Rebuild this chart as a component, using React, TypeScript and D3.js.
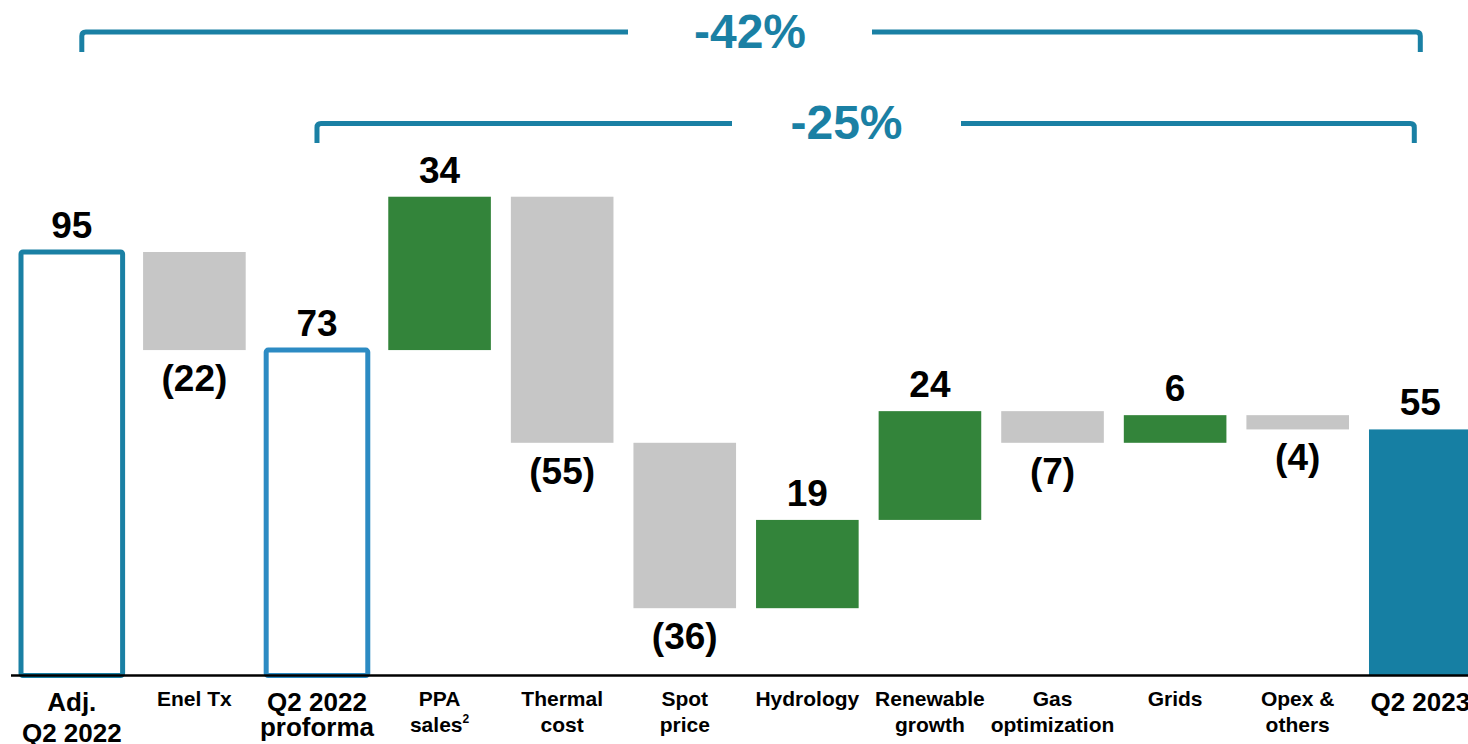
import React from "react";
import * as d3 from "d3";

const categories: string[][] = [
  ["Adj.", "Q2 2022"],
  ["Enel Tx"],
  ["Q2 2022", "proforma"],
  ["PPA", "sales"],
  ["Thermal", "cost"],
  ["Spot", "price"],
  ["Hydrology"],
  ["Renewable", "growth"],
  ["Gas", "optimization"],
  ["Grids"],
  ["Opex &", "others"],
  ["Q2 2023"],
];
const footnotes = ["", "", "", "2", "", "", "", "", "", "", "", ""];
const kinds = ["total", "delta", "total", "delta", "delta", "delta", "delta", "delta", "delta", "delta", "delta", "total"];
const values = [95, -22, 73, 34.4, -55.2, -37.1, 19.8, 24.4, -7.1, 6.2, -3.2, 55.2];
const valueLabels = ["95", "(22)", "73", "34", "(55)", "(36)", "19", "24", "(7)", "6", "(4)", "55"];

const brackets = [
  { from: 0, to: 11, label: "-42%" },
  { from: 2, to: 11, label: "-25%" },
];

const FONT = "'Liberation Sans', Arial, Helvetica, sans-serif";
const TEAL = "#1a80a4";
const BLUE = "#2c8bc3";
const GREEN = "#33843a";
const GRAY = "#c6c6c6";
const FINAL = "#167fa3";

export default function App() {
  const W = 1468;
  const H = 744;
  const x = d3
    .scaleBand<number>()
    .domain(d3.range(categories.length))
    .range([20.5, 1471.6])
    .paddingInner(0.163)
    .paddingOuter(0);
  const y = d3.scaleLinear().domain([0, 95]).range([675.5, 252]);
  const bw = x.bandwidth();

  let running = 0;
  const bars = values.map((v, i) => {
    let start: number, end: number;
    if (kinds[i] === "total") {
      start = 0;
      end = v;
      running = v;
    } else {
      start = running;
      end = running + v;
      running = end;
    }
    return { i, v, start, end, lo: Math.min(start, end), hi: Math.max(start, end) };
  });

  const cx = (i: number) => (x(i) as number) + bw / 2;

  const bracketGeo = [
    { left: cx(brackets[0].from) + 10, right: cx(brackets[0].to), yLine: 32, yEnd: 52, textX: 750, textY: 48, gap: [628, 872] },
    { left: cx(brackets[1].from), right: cx(brackets[1].to) - 6, yLine: 123.5, yEnd: 143, textX: 846.5, textY: 139, gap: [732, 961] },
  ];

  return (
    <svg
      width={W}
      height={H}
      style={{ position: "fixed", left: 0, top: 0, background: "#fff" }}
      fontFamily={FONT}
    >
      <rect x={0} y={0} width={W} height={H} fill="#fff" />
      {brackets.map((b, k) => {
        const g = bracketGeo[k];
        const r = 4;
        const leftPath = `M${g.left},${g.yEnd} L${g.left},${g.yLine + r} Q${g.left},${g.yLine} ${g.left + r},${g.yLine} L${g.gap[0]},${g.yLine}`;
        const rightPath = `M${g.gap[1]},${g.yLine} L${g.right - r},${g.yLine} Q${g.right},${g.yLine} ${g.right},${g.yLine + r} L${g.right},${g.yEnd}`;
        return (
          <g key={"br" + k}>
            <path d={leftPath} fill="none" stroke={TEAL} strokeWidth={5} />
            <path d={rightPath} fill="none" stroke={TEAL} strokeWidth={5} />
            <text
              x={g.textX}
              y={g.textY}
              textAnchor="middle"
              fontSize={48}
              fontWeight="bold"
              fill={TEAL}
            >
              {b.label}
            </text>
          </g>
        );
      })}
      {bars.map((b) => {
        const bx = x(b.i) as number;
        const top = y(b.hi);
        const bot = y(b.lo);
        if (kinds[b.i] === "total") {
          if (b.i === 11) {
            return <rect key={"b" + b.i} x={bx} y={top} width={bw + 10} height={bot - top} fill={FINAL} />;
          }
          return (
            <rect
              key={"b" + b.i}
              x={bx + 0.5}
              y={top}
              width={bw - 1}
              height={bot - top}
              fill="none"
              stroke={b.i === 0 ? TEAL : BLUE}
              strokeWidth={5}
              rx={2}
            />
          );
        }
        return (
          <rect
            key={"b" + b.i}
            x={bx}
            y={top}
            width={bw}
            height={bot - top}
            fill={b.v >= 0 ? GREEN : GRAY}
          />
        );
      })}
      <line x1={11} x2={W} y1={675.5} y2={675.5} stroke="#000" strokeWidth={2.5} />
      {bars.map((b) => {
        const neg = b.v < 0;
        const ly = neg ? y(b.lo) + 41 : y(b.hi) - 14;
        return (
          <text
            key={"v" + b.i}
            x={cx(b.i)}
            y={ly}
            textAnchor="middle"
            fontSize={37}
            fontWeight="bold"
            fill="#000"
          >
            {valueLabels[b.i]}
          </text>
        );
      })}
      {categories.map((lines, i) => {
        const big = kinds[i] === "total";
        const fs = big ? 26 : 21;
        const y0 = big ? 711 : 705.5;
        const gap = big ? (i === 0 ? 31 : 24.5) : 26;
        return (
          <text
            key={"c" + i}
            x={cx(i)}
            textAnchor="middle"
            fontSize={fs}
            fontWeight="bold"
            fill="#000"
          >
            {lines.map((ln, j) => (
              <tspan key={j} x={cx(i)} y={y0 + j * gap}>
                {ln}
                {j === lines.length - 1 && footnotes[i] ? (
                  <tspan fontSize={12} dy={-9}>
                    {footnotes[i]}
                  </tspan>
                ) : null}
              </tspan>
            ))}
          </text>
        );
      })}
    </svg>
  );
}
